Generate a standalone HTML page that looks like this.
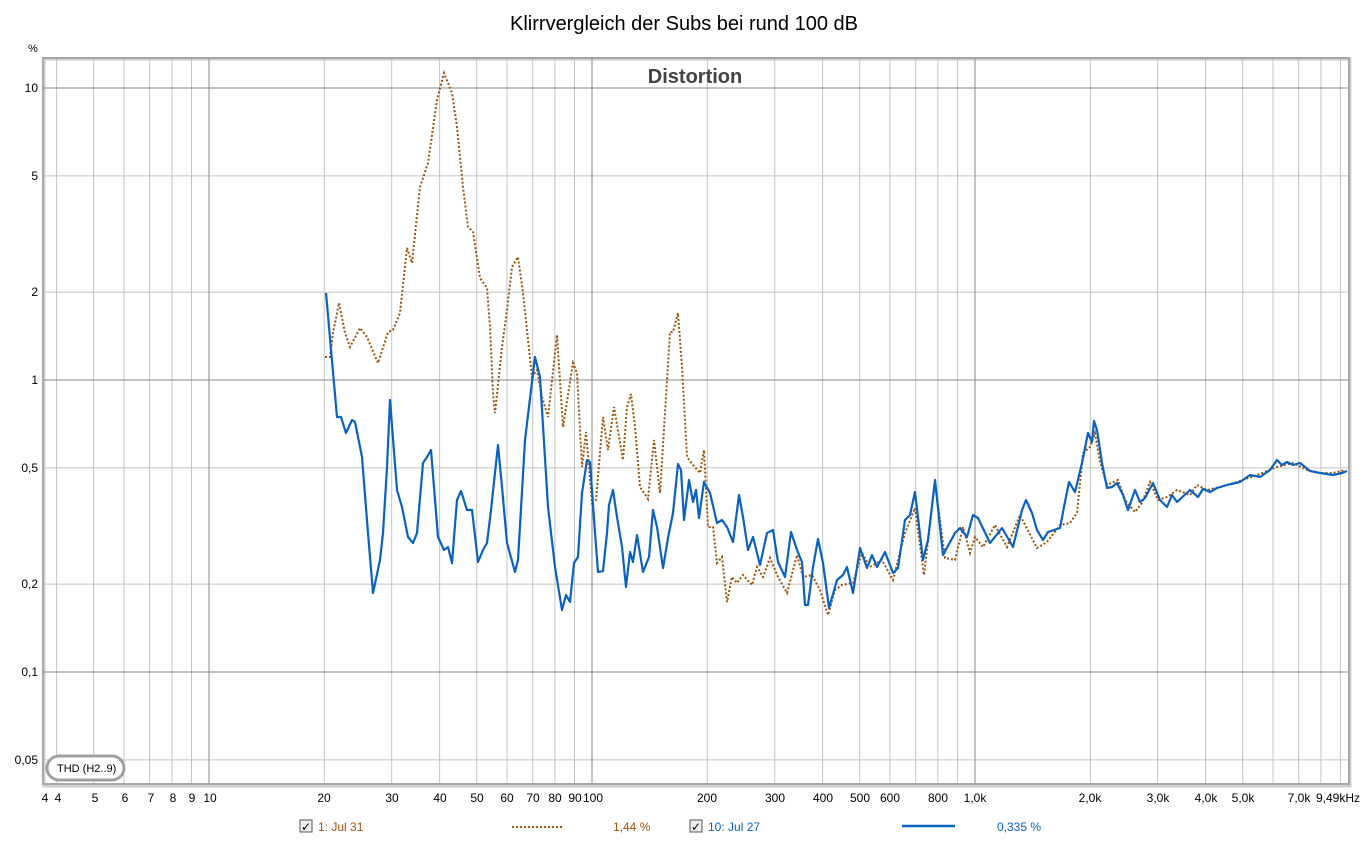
<!DOCTYPE html>
<html><head><meta charset="utf-8"><style>
html,body{margin:0;padding:0;background:#fff;}
svg{display:block;font-family:"Liberation Sans",sans-serif;}
</style></head><body>
<svg width="1369" height="841" viewBox="0 0 1369 841">
<rect width="1369" height="841" fill="#fff"/>
<text x="684" y="30" font-size="20" text-anchor="middle" fill="#000">Klirrvergleich der Subs bei rund 100 dB</text>
<text x="28" y="52" font-size="11" fill="#000">%</text>
<!-- frame shadow -->
<rect x="44" y="59" width="1306" height="727" fill="none" stroke="#d0d0d0" stroke-width="3"/>
<g stroke="#c4c4c4" stroke-width="1">
<line x1="56.6" y1="58" x2="56.6" y2="784"/><line x1="93.7" y1="58" x2="93.7" y2="784"/><line x1="124" y1="58" x2="124" y2="784"/><line x1="149.7" y1="58" x2="149.7" y2="784"/><line x1="171.9" y1="58" x2="171.9" y2="784"/><line x1="191.5" y1="58" x2="191.5" y2="784"/>
<line x1="324.3" y1="58" x2="324.3" y2="784"/><line x1="391.7" y1="58" x2="391.7" y2="784"/><line x1="439.6" y1="58" x2="439.6" y2="784"/><line x1="476.7" y1="58" x2="476.7" y2="784"/><line x1="507" y1="58" x2="507" y2="784"/><line x1="532.7" y1="58" x2="532.7" y2="784"/><line x1="554.9" y1="58" x2="554.9" y2="784"/><line x1="574.5" y1="58" x2="574.5" y2="784"/>
<line x1="707.3" y1="58" x2="707.3" y2="784"/><line x1="774.7" y1="58" x2="774.7" y2="784"/><line x1="822.6" y1="58" x2="822.6" y2="784"/><line x1="859.7" y1="58" x2="859.7" y2="784"/><line x1="890" y1="58" x2="890" y2="784"/><line x1="915.7" y1="58" x2="915.7" y2="784"/><line x1="937.9" y1="58" x2="937.9" y2="784"/><line x1="957.5" y1="58" x2="957.5" y2="784"/>
<line x1="1090.3" y1="58" x2="1090.3" y2="784"/><line x1="1157.7" y1="58" x2="1157.7" y2="784"/><line x1="1205.6" y1="58" x2="1205.6" y2="784"/><line x1="1242.7" y1="58" x2="1242.7" y2="784"/><line x1="1273" y1="58" x2="1273" y2="784"/><line x1="1298.7" y1="58" x2="1298.7" y2="784"/><line x1="1320.9" y1="58" x2="1320.9" y2="784"/><line x1="1340.5" y1="58" x2="1340.5" y2="784"/>
<line x1="43" y1="175.9" x2="1349" y2="175.9"/><line x1="43" y1="292.1" x2="1349" y2="292.1"/><line x1="43" y1="467.9" x2="1349" y2="467.9"/><line x1="43" y1="584.1" x2="1349" y2="584.1"/><line x1="43" y1="759.9" x2="1349" y2="759.9"/>
</g>
<g stroke="#888" stroke-width="1">
<line x1="209" y1="58" x2="209" y2="784"/><line x1="592" y1="58" x2="592" y2="784"/><line x1="975" y1="58" x2="975" y2="784"/>
<line x1="43" y1="88" x2="1349" y2="88"/><line x1="43" y1="380" x2="1349" y2="380"/><line x1="43" y1="672" x2="1349" y2="672"/>
</g>
<rect x="43" y="58" width="1306" height="726" fill="none" stroke="#a8a8a8" stroke-width="2"/>
<text x="695" y="83" font-size="20" font-weight="bold" fill="#444" text-anchor="middle">Distortion</text>
<g font-size="12" fill="#000" text-anchor="end">
<text x="38" y="92">10</text><text x="38" y="180">5</text><text x="38" y="296">2</text><text x="38" y="384">1</text><text x="38" y="472">0,5</text><text x="38" y="588">0,2</text><text x="38" y="676">0,1</text><text x="38" y="764">0,05</text>
</g>
<g font-size="12" fill="#000" text-anchor="middle">
<text x="45" y="802">4</text><text x="58" y="802">4</text><text x="95" y="802">5</text><text x="125" y="802">6</text><text x="151" y="802">7</text><text x="173" y="802">8</text><text x="192" y="802">9</text><text x="210" y="802">10</text>
<text x="324" y="802">20</text><text x="392" y="802">30</text><text x="440" y="802">40</text><text x="477" y="802">50</text><text x="507" y="802">60</text><text x="533" y="802">70</text><text x="555" y="802">80</text><text x="575" y="802">90</text><text x="593" y="802">100</text>
<text x="707" y="802">200</text><text x="775" y="802">300</text><text x="823" y="802">400</text><text x="860" y="802">500</text><text x="890" y="802">600</text><text x="938" y="802">800</text><text x="975" y="802">1,0k</text>
<text x="1090" y="802">2,0k</text><text x="1158" y="802">3,0k</text><text x="1206" y="802">4,0k</text><text x="1243" y="802">5,0k</text><text x="1299" y="802">7,0k</text><text x="1338" y="802">9,49kHz</text>
</g>
<rect x="47" y="756" width="77" height="24" rx="12" fill="#fff" stroke="#a0a0a0" stroke-width="3"/>
<text x="57" y="772" font-size="11" fill="#000">THD (H2..9)</text>
<!-- orange dotted -->
<polyline fill="none" stroke="#a0520a" stroke-width="2" stroke-dasharray="2,2" points="325,357 330,357 333,333 339,303 345,333 350,347 360,328 367,337 378,363 388,332 393,330 400,313 407,248 412,263 420,187 428,163 437,100 444,73 452,93 457,127 463,187 468,227 473,232 480,278 487,288 490,327 493,393 495,413 502,347 507,310 512,267 518,257 523,293 532,377 537,370 542,397 548,417 557,335 563,427 573,363 577,373 582,467 586,432 592,503 596,500 603,417 608,450 614,407 623,460 627,407 631,394 635,427 640,487 648,499 654,440 660,493 670,332 673,332 678,313 682,367 687,457 693,465 700,473 704,450 708,527 713,527 717,563 722,557 727,602 732,577 737,583 743,575 752,585 757,567 763,577 770,558 778,577 787,593 797,555 803,577 812,575 820,590 828,615 835,590 842,585 853,583 862,553 870,567 882,560 893,580 905,533 915,508 924,575 935,482 945,558 955,560 963,527 970,553 975,537 983,547 995,525 1007,547 1020,515 1037,548 1047,542 1060,525 1070,523 1077,513 1083,453 1090,447 1095,433 1100,462 1107,485 1118,480 1125,500 1135,512 1142,503 1150,482 1158,500 1167,497 1177,490 1190,495 1197,485 1207,490 1220,487 1237,482 1257,475 1277,467 1293,463 1307,470 1320,473 1333,473 1345,470"/>
<!-- blue solid -->
<polyline fill="none" stroke="#0a62c0" stroke-width="2.2" stroke-linejoin="round" points="326,293 337,417 341,417 346,433 352,420 355,422 362,457 368,533 373,593 380,560 383,533 387,467 390,400 397,490 402,507 408,537 413,543 417,533 423,463 427,457 431,450 438,537 444,550 448,547 452,563 457,500 461,491 467,510 472,510 478,562 483,550 487,543 491,510 498,445 502,487 507,543 515,572 518,560 525,440 535,357 540,377 548,507 555,567 562,610 566,595 570,602 574,563 578,557 582,493 587,460 590,462 595,533 598,572 603,571 607,533 609,505 613,490 617,517 622,547 626,587 630,552 633,562 637,535 643,572 649,557 653,510 657,527 663,568 668,538 673,513 678,464 681,470 684,520 689,480 693,502 696,490 699,518 704,482 710,493 717,523 722,520 727,527 733,542 739,495 743,517 748,550 753,537 760,565 767,533 773,530 778,562 785,577 791,532 797,550 802,562 805,605 808,605 813,567 818,539 823,563 829,608 837,580 843,575 847,567 853,593 860,548 867,568 872,555 877,567 885,552 893,573 898,568 905,520 910,515 915,492 923,560 928,540 935,480 943,555 955,533 960,528 967,537 973,515 978,518 990,543 1002,528 1013,547 1022,510 1026,500 1032,513 1037,530 1043,540 1048,532 1060,528 1064,507 1069,482 1075,492 1082,463 1088,433 1092,442 1094,421 1097,430 1102,463 1107,488 1112,487 1117,483 1123,495 1128,510 1135,490 1140,502 1145,498 1153,483 1160,500 1167,507 1172,495 1177,502 1190,490 1198,497 1203,489 1210,492 1217,488 1227,485 1240,482 1250,475 1260,477 1270,470 1277,460 1282,465 1287,462 1293,465 1300,463 1310,471 1320,473 1333,475 1342,473 1347,471"/>
<!-- legend -->
<g font-size="12">
<rect x="300" y="820" width="12" height="12" fill="#eee" stroke="#555"/><text x="301" y="831" font-size="12" fill="#000">✓</text>
<text x="318" y="831" fill="#a0520a">1: Jul 31</text>
<line x1="512" y1="827" x2="562" y2="827" stroke="#a0520a" stroke-width="2" stroke-dasharray="2,2"/>
<text x="613" y="831" fill="#a0520a">1,44 %</text>
<rect x="690" y="820" width="12" height="12" fill="#eee" stroke="#555"/><text x="691" y="831" font-size="12" fill="#000">✓</text>
<text x="708" y="831" fill="#0a62c0">10: Jul 27</text>
<line x1="902" y1="826" x2="955" y2="826" stroke="#0a62c0" stroke-width="2.5"/>
<text x="997" y="831" fill="#0a62c0">0,335 %</text>
</g>
</svg>
</body></html>
